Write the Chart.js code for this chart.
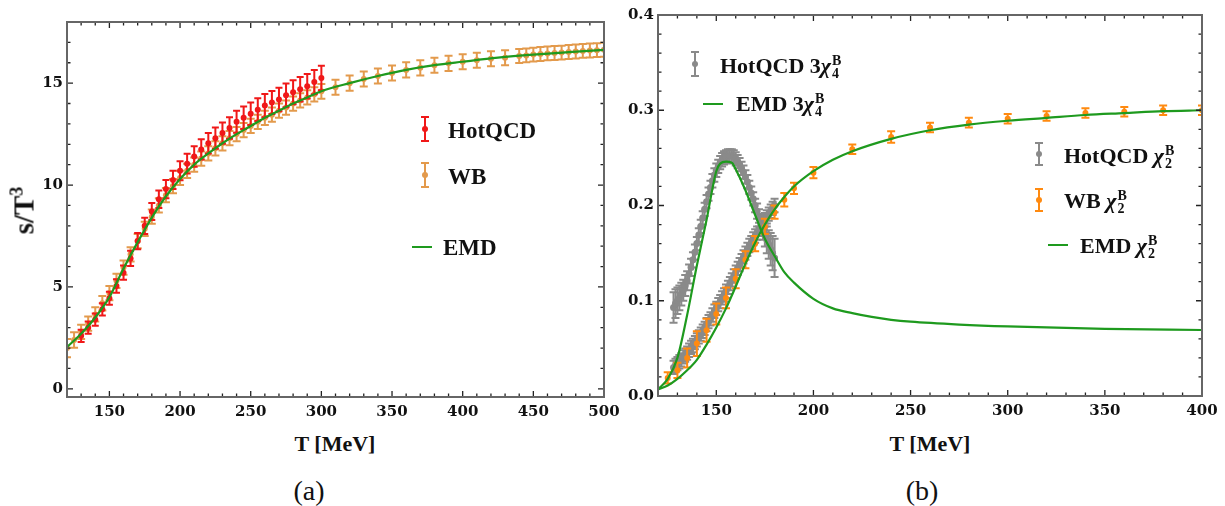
<!DOCTYPE html>
<html>
<head>
<meta charset="utf-8">
<script src="https://cdn.jsdelivr.net/npm/chart.js@4.4.1/dist/chart.umd.min.js"></script>
<style>
  body { margin: 0; background: #fff; width: 1225px; height: 506px; position: relative; overflow: hidden; }
  .wrap { position: absolute; top: 0; width: 625px; height: 430px; }
  #wrapA { left: 0; }
  #wrapB { left: 600px; }
  .axt { position: absolute; width: 160px; text-align: center; font: bold 22px "Liberation Serif", serif; line-height: 24px; color: #111; }
  .cap { position: absolute; width: 80px; text-align: center; font: 28px "Liberation Serif", serif; line-height: 30px; color: #111; }
  .ylab { position: absolute; left: -30px; top: 192px; width: 100px; text-align: center; font: bold 29px "Liberation Serif", serif; line-height: 30px; transform: rotate(-90deg); color: #111; }
  .ylab sup { font-size: 18px; vertical-align: 11px; }
</style>
</head>
<body>
<div class="wrap" id="wrapA"><canvas id="chartA"></canvas></div>
<div class="wrap" id="wrapB"><canvas id="chartB"></canvas></div>
<div class="ylab">s/T<sup>3</sup></div>
<div class="axt" style="left:255px; top:432px;">T [MeV]</div>
<div class="axt" style="left:850px; top:432px;">T [MeV]</div>
<div class="cap" style="left:269px; top:476px;">(a)</div>
<div class="cap" style="left:882px; top:476px;">(b)</div>
<script>
// ---------- (a) entropy density s/T^3 ----------
const hotT = [130,135,140,145,150,155,160,165,170,175,180,185,190,195,200,205,210,215,220,225,230,235,240,245,250,255,260,265,270,275,280,285,290,295,300];
const hotS = [2.6,3.0,3.4,3.9,4.45,5.05,5.7,6.4,7.25,8.0,8.7,9.3,9.8,10.25,10.7,11.05,11.4,11.75,12.05,12.3,12.55,12.8,13.1,13.3,13.5,13.7,13.9,14.05,14.2,14.4,14.55,14.7,14.85,15.05,15.25];
const hotSErr = [0.3,0.3,0.3,0.3,0.32,0.33,0.35,0.37,0.4,0.4,0.42,0.43,0.45,0.45,0.47,0.48,0.5,0.5,0.5,0.52,0.52,0.53,0.54,0.55,0.55,0.56,0.57,0.57,0.58,0.58,0.59,0.6,0.6,0.6,0.6];

const wbT = [120,125,130,135,140,145,150,155,160,165,170,175,180,185,190,195,200,205,210,215,220,225,230,235,240,245,250,255,260,265,270,275,280,285,290,295,300,
             310,320,330,340,350,360,370,380,390,400,410,420,430,440,445,450,455,460,465,470,475,480,485,490,495,500];
const wbS = [2.0,2.4,2.8,3.2,3.65,4.2,4.7,5.3,5.95,6.6,7.25,7.85,8.45,9.0,9.5,9.95,10.35,10.7,11.0,11.3,11.55,11.8,12.05,12.3,12.5,12.7,12.9,13.1,13.3,13.45,13.65,13.8,14.0,14.15,14.3,14.45,14.6,
             14.8,15.0,15.2,15.35,15.5,15.65,15.75,15.88,15.97,16.05,16.12,16.2,16.25,16.33,16.36,16.4,16.43,16.46,16.48,16.5,16.53,16.55,16.58,16.6,16.62,16.64];
const wbSErr = [0.45,0.38,0.35,0.35,0.35,0.35,0.35,0.35,0.35,0.35,0.35,0.35,0.35,0.35,0.35,0.35,0.35,0.35,0.35,0.35,0.35,0.35,0.35,0.35,0.35,0.35,0.35,0.35,0.35,0.35,0.35,0.35,0.35,0.35,0.35,0.35,0.36,
                0.37,0.37,0.37,0.37,0.37,0.37,0.37,0.37,0.37,0.37,0.37,0.37,0.37,0.34,0.34,0.34,0.34,0.34,0.34,0.34,0.34,0.34,0.34,0.34,0.34,0.34];

const emdT = [120,130,140,150,160,170,180,190,200,210,220,230,240,250,260,270,280,290,300,320,340,360,380,400,425,450,475,500];
const emdS = [2.05,2.7,3.5,4.5,5.9,7.2,8.4,9.45,10.3,11.0,11.55,12.05,12.5,12.9,13.3,13.65,14.0,14.3,14.6,15.0,15.35,15.65,15.88,16.05,16.25,16.4,16.52,16.63];

const ticksAx = [150,200,250,300,350,400,450,500];
const ticksAy = [0,5,10,15];

// ---------- (b) baryon susceptibilities ----------
const hotChiT = [128,129,130,131,132,133,134,135,136,137,138,139,140,141,142,143,144,145,146,147,148,149,150,151,152,153,154,
                 155,156,157,158,159,160,161,162,163,164,165,166,167,168,169,170,171,172,173,174,175,176,177,178,179,180];
const hotChi2 = [0.030,0.032,0.034,0.036,0.038,0.041,0.043,0.045,0.048,0.051,0.053,0.056,0.059,0.062,0.065,0.068,0.071,0.075,0.078,0.081,0.085,0.089,0.092,0.096,0.099,0.103,0.106,
                 0.110,0.114,0.118,0.122,0.126,0.130,0.134,0.138,0.142,0.146,0.150,0.154,0.158,0.161,0.165,0.168,0.171,0.175,0.179,0.182,0.185,0.188,0.191,0.194,0.197,0.200];
const hotChi2Err = [0.007,0.007,0.007,0.007,0.007,0.007,0.007,0.007,0.007,0.007,0.007,0.007,0.007,0.007,0.007,0.007,0.007,0.007,0.007,0.007,0.007,0.007,0.007,0.007,0.007,0.007,0.007,
                    0.007,0.007,0.007,0.007,0.007,0.007,0.007,0.007,0.007,0.007,0.007,0.007,0.007,0.007,0.007,0.007,0.007,0.007,0.007,0.007,0.007,0.007,0.007,0.007,0.007,0.007];
const hotChi4 = [0.093,0.097,0.100,0.103,0.107,0.111,0.116,0.121,0.128,0.135,0.143,0.151,0.160,0.169,0.178,0.187,0.196,0.204,0.212,0.219,0.226,0.232,0.237,0.241,0.245,0.248,0.250,
                 0.251,0.252,0.252,0.252,0.251,0.249,0.246,0.243,0.239,0.235,0.230,0.225,0.219,0.213,0.207,0.200,0.194,0.187,0.181,0.175,0.169,0.164,0.159,0.154,0.150,0.145];
const hotChi4Err = [0.016,0.015,0.014,0.013,0.012,0.011,0.011,0.010,0.010,0.009,0.008,0.008,0.007,0.007,0.007,0.007,0.007,0.007,0.007,0.007,0.007,0.007,0.007,0.007,0.007,0.007,0.007,
                    0.007,0.007,0.007,0.007,0.007,0.007,0.007,0.007,0.007,0.007,0.007,0.007,0.007,0.007,0.007,0.007,0.008,0.009,0.010,0.011,0.012,0.014,0.015,0.017,0.018,0.020];

const wbChiT = [125,130,135,140,145,150,155,160,165,170,175,180,185,190,200,220,240,260,280,300,320,340,360,380,400];
const wbChi2 = [0.019,0.027,0.040,0.055,0.069,0.086,0.103,0.123,0.143,0.160,0.178,0.193,0.206,0.218,0.2345,0.259,0.272,0.282,0.287,0.291,0.294,0.297,0.2985,0.300,0.300];
const wbChi2Err = [0.006,0.008,0.010,0.013,0.012,0.011,0.011,0.010,0.009,0.008,0.008,0.007,0.007,0.006,0.006,0.005,0.006,0.005,0.005,0.005,0.005,0.005,0.005,0.005,0.005];

const emdChi2T = [120,125,130,135,140,145,150,155,160,165,170,175,180,185,190,200,210,220,240,260,280,300,320,340,360,380,400];
const emdChi2 = [0.007,0.011,0.018,0.027,0.038,0.054,0.072,0.092,0.115,0.139,0.161,0.180,0.196,0.209,0.220,0.236,0.248,0.257,0.270,0.279,0.285,0.289,0.292,0.295,0.297,0.299,0.300];
const emdChi4T = [120,125,130,135,140,145,150,152,155,158,160,165,170,175,180,185,190,200,210,220,230,240,250,275,300,350,400];
const emdChi4 = [0.007,0.018,0.040,0.085,0.137,0.185,0.236,0.244,0.246,0.245,0.238,0.216,0.190,0.165,0.147,0.130,0.119,0.102,0.092,0.087,0.083,0.080,0.078,0.075,0.073,0.0705,0.0693];

const ticksBx = [150,200,250,300,350,400];
const ticksBy = [0,0.1,0.2,0.3,0.4];

// colours
const RED = '#f01818', TAN = '#e39a4c', ORANGE = '#ff8a10', GRAY = '#8a8a8a', GREEN = '#1e9a1e';
const TXT = 'bold 22px "Liberation Serif", serif';

const pts = (xs, ys) => xs.map((x, i) => ({ x: x, y: ys[i] }));

// vertical error bars with caps, drawn just below each dataset's own markers
const errorBars = {
  id: 'errorBars',
  beforeDatasetDraw(chart, args) {
    const ds = chart.data.datasets[args.index];
    if (!ds.errors) return;
    const { ctx, chartArea: a, scales: { x, y } } = chart;
    ctx.save();
    ctx.beginPath();
    ctx.rect(a.left, a.top, a.right - a.left, a.bottom - a.top);
    ctx.clip();
    ctx.strokeStyle = ds.pointBackgroundColor;
    ctx.lineWidth = ds.errWidth;
    const c = ds.capWidth / 2;
    ds.data.forEach((p, i) => {
      const px = x.getPixelForValue(p.x);
      const t = y.getPixelForValue(p.y + ds.errors[i]);
      const b = y.getPixelForValue(p.y - ds.errors[i]);
      ctx.beginPath();
      ctx.moveTo(px, t); ctx.lineTo(px, b);
      ctx.moveTo(px - c, t); ctx.lineTo(px + c, t);
      ctx.moveTo(px - c, b); ctx.lineTo(px + c, b);
      ctx.stroke();
    });
    ctx.restore();
  }
};

// Mathematica-style frame with inward ticks on all four sides
const frame = {
  id: 'frame',
  afterDatasetsDraw(chart, args, opts) {
    const { ctx, chartArea: a, scales: { x, y } } = chart;
    ctx.save();
    ctx.strokeStyle = '#222';
    ctx.lineWidth = 1.3;
    const tick = (v, len, horiz) => {
      ctx.beginPath();
      if (horiz) {
        const px = x.getPixelForValue(v);
        ctx.moveTo(px, a.bottom); ctx.lineTo(px, a.bottom - len);
        ctx.moveTo(px, a.top); ctx.lineTo(px, a.top + len);
      } else {
        const py = y.getPixelForValue(v);
        ctx.moveTo(a.left, py); ctx.lineTo(a.left + len, py);
        ctx.moveTo(a.right, py); ctx.lineTo(a.right - len, py);
      }
      ctx.stroke();
    };
    for (let v = opts.xFrom; v <= opts.xTo + 1e-9; v += opts.xMinor) {
      const major = Math.abs(v / opts.xMajor - Math.round(v / opts.xMajor)) < 1e-6;
      tick(v, major ? 6 : 3.5, true);
    }
    for (let v = opts.yFrom; v <= opts.yTo + 1e-9; v += opts.yMinor) {
      const major = Math.abs(v / opts.yMajor - Math.round(v / opts.yMajor)) < 1e-6;
      tick(v, major ? 6 : 3.5, false);
    }
    ctx.strokeStyle = '#666';
    ctx.lineWidth = 2;
    ctx.strokeRect(a.left, a.top, a.right - a.left, a.bottom - a.top);
    ctx.restore();
  }
};

// legend entries placed inside the frame
function richText(ctx, x, y, parts) {
  parts.forEach(p => {
    if (p.sup !== undefined) {
      ctx.font = 'bold 14px "Liberation Serif", serif';
      ctx.fillText(p.sup, x + 1, y - 8);
      ctx.fillText(p.sub, x + 1, y + 5);
      x += Math.max(ctx.measureText(p.sup).width, ctx.measureText(p.sub).width) + 1;
    } else {
      ctx.font = p.f;
      ctx.fillText(p.t, x, y);
      x += ctx.measureText(p.t).width;
    }
  });
}
const keyBox = {
  id: 'keyBox',
  afterDraw(chart, args, opts) {
    const ctx = chart.ctx;
    ctx.save();
    ctx.textBaseline = 'alphabetic';
    opts.items.forEach(it => {
      const mx = it.mx - opts.dx;
      ctx.strokeStyle = it.color;
      ctx.fillStyle = it.color;
      ctx.lineWidth = 2;
      if (it.kind === 'err') {
        ctx.beginPath();
        ctx.moveTo(mx, it.my - it.h); ctx.lineTo(mx, it.my + it.h);
        ctx.moveTo(mx - 4, it.my - it.h); ctx.lineTo(mx + 4, it.my - it.h);
        ctx.moveTo(mx - 4, it.my + it.h); ctx.lineTo(mx + 4, it.my + it.h);
        ctx.stroke();
        ctx.beginPath();
        ctx.arc(mx, it.my, 3, 0, Math.PI * 2);
        ctx.fill();
      } else {
        ctx.beginPath();
        ctx.moveTo(mx - 10, it.my); ctx.lineTo(mx + 10, it.my);
        ctx.stroke();
      }
      ctx.fillStyle = '#111';
      richText(ctx, it.tx - opts.dx, it.ty, it.parts);
    });
    ctx.restore();
  }
};

// fix axis box sizes so the plot frames land where wanted
const fixBox = size => scale => {
  if (scale.isHorizontal()) scale.height = size; else scale.width = size;
  scale.paddingLeft = scale.paddingRight = scale.paddingTop = scale.paddingBottom = 0;
};
const tickFont = { family: 'DejaVu Serif', weight: 'bold', size: 15 };

function axes(xMin, xMax, yMin, yMax, xt, yt, yFmt, xBox, yBox) {
  return {
    x: {
      type: 'linear', min: xMin, max: xMax,
      grid: { display: false, drawTicks: false }, border: { display: false },
      ticks: { font: tickFont, color: '#111', padding: 6, maxRotation: 0 },
      afterBuildTicks: s => { s.ticks = xt.map(v => ({ value: v })); },
      afterFit: fixBox(xBox)
    },
    y: {
      type: 'linear', min: yMin, max: yMax,
      grid: { display: false, drawTicks: false }, border: { display: false },
      ticks: { font: tickFont, color: '#111', padding: 4, callback: yFmt },
      afterBuildTicks: s => { s.ticks = yt.map(v => ({ value: v })); },
      afterFit: fixBox(yBox)
    }
  };
}

const line = (data, order) => ({
  type: 'line', data: data, borderColor: GREEN, borderWidth: 2.2, pointRadius: 0,
  cubicInterpolationMode: 'monotone', fill: false, order: order
});
const marks = (data, errs, color, r, cap, order) => ({
  type: 'scatter', data: data, errors: errs, pointBackgroundColor: color, pointBorderWidth: 0,
  pointRadius: r, errWidth: 2, capWidth: cap, order: order
});

new Chart(document.getElementById('chartA'), {
  type: 'scatter',
  data: {
    datasets: [
      line(pts(emdT, emdS), 0),
      marks(pts(hotT, hotS), hotSErr, RED, 3, 7, 1),
      marks(pts(wbT, wbS), wbSErr, TAN, 3, 8, 2)
    ]
  },
  options: {
    responsive: true, maintainAspectRatio: false, animation: false,
    layout: { padding: { top: 22, right: 21, left: 0, bottom: 0 } },
    scales: axes(120, 500, -0.4, 18, ticksAx, ticksAy, v => String(v), 33, 67),
    plugins: {
      legend: { display: false }, tooltip: { enabled: false },
      frame: { xFrom: 120, xTo: 500, xMinor: 10, xMajor: 50, yFrom: 0, yTo: 18, yMinor: 1, yMajor: 5 },
      keyBox: {
        dx: 0,
        items: [
          { kind: 'err', color: RED, mx: 425, my: 129, h: 12, tx: 448, ty: 138, parts: [{ t: 'HotQCD', f: 'bold 23px "Liberation Serif", serif' }] },
          { kind: 'err', color: TAN, mx: 425, my: 175, h: 12, tx: 448, ty: 184, parts: [{ t: 'WB', f: 'bold 23px "Liberation Serif", serif' }] },
          { kind: 'line', color: GREEN, mx: 422, my: 247, tx: 443, ty: 255, parts: [{ t: 'EMD', f: 'bold 23px "Liberation Serif", serif' }] }
        ]
      }
    }
  },
  plugins: [errorBars, frame, keyBox]
});

const chiFont = 'italic bold 22px "Liberation Serif", serif';
new Chart(document.getElementById('chartB'), {
  type: 'scatter',
  data: {
    datasets: [
      line(pts(emdChi4T, emdChi4), 0),
      line(pts(emdChi2T, emdChi2), 1),
      marks(pts(wbChiT, wbChi2), wbChi2Err, ORANGE, 3, 8, 2),
      marks(pts(hotChiT, hotChi2), hotChi2Err, GRAY, 3.5, 8, 3),
      marks(pts(hotChiT, hotChi4), hotChi4Err, GRAY, 3.5, 8, 4)
    ]
  },
  options: {
    responsive: true, maintainAspectRatio: false, animation: false,
    layout: { padding: { top: 15, right: 23, left: 0, bottom: 0 } },
    scales: axes(120, 400, 0, 0.4, ticksBx, ticksBy, v => v.toFixed(1), 34, 58),
    plugins: {
      legend: { display: false }, tooltip: { enabled: false },
      frame: { xFrom: 120, xTo: 400, xMinor: 10, xMajor: 50, yFrom: 0, yTo: 0.4, yMinor: 0.02, yMajor: 0.1 },
      keyBox: {
        dx: 600,
        items: [
          { kind: 'err', color: GRAY, mx: 695, my: 64, h: 12, tx: 720, ty: 73,
            parts: [{ t: 'HotQCD 3', f: TXT }, { t: 'χ', f: chiFont }, { sup: 'B', sub: '4' }] },
          { kind: 'line', color: GREEN, mx: 713, my: 104, tx: 736, ty: 111,
            parts: [{ t: 'EMD 3', f: TXT }, { t: 'χ', f: chiFont }, { sup: 'B', sub: '4' }] },
          { kind: 'err', color: GRAY, mx: 1039, my: 154, h: 11, tx: 1064, ty: 163,
            parts: [{ t: 'HotQCD ', f: TXT }, { t: 'χ', f: chiFont }, { sup: 'B', sub: '2' }] },
          { kind: 'err', color: ORANGE, mx: 1039, my: 200, h: 11, tx: 1064, ty: 208,
            parts: [{ t: 'WB ', f: TXT }, { t: 'χ', f: chiFont }, { sup: 'B', sub: '2' }] },
          { kind: 'line', color: GREEN, mx: 1058, my: 245, tx: 1080, ty: 253,
            parts: [{ t: 'EMD ', f: TXT }, { t: 'χ', f: chiFont }, { sup: 'B', sub: '2' }] }
        ]
      }
    }
  },
  plugins: [errorBars, frame, keyBox]
});
</script>
</body>
</html>
